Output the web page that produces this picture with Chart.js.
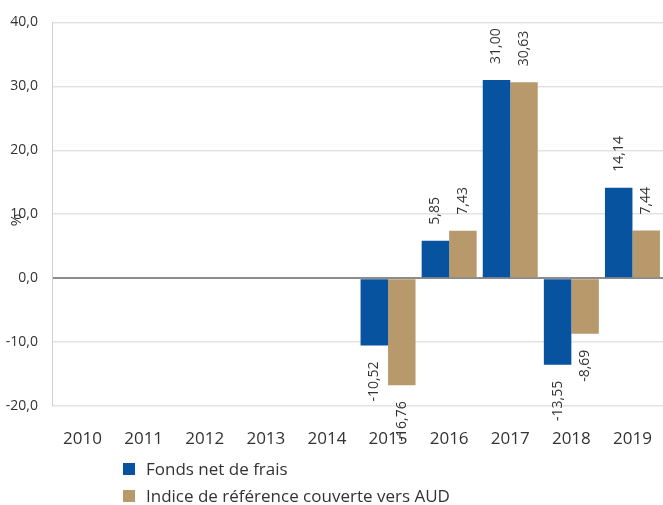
<!DOCTYPE html>
<html>
<head>
<meta charset="utf-8">
<script src="https://cdn.jsdelivr.net/npm/chart.js@4.4.0/dist/chart.umd.min.js"></script>
<style>
	body { margin: 0; background: #fff; }
	#wrap { position: relative; width: 663px; height: 505px; }
	#legend { position: absolute; left: 123px; top: 456px; font-family: "Open Sans", sans-serif; font-size: 17px; color: #333; }
	#legend div { height: 27px; line-height: 26px; white-space: nowrap; }
	#legend span.box { display: inline-block; width: 12px; height: 12px; margin-right: 11px; vertical-align: 0px; }
</style>
</head>
<body>
<div id="wrap">
	<canvas id="chart" width="663" height="505"></canvas>
	<div id="legend"></div>
</div>
<script>
const labels = ['2010', '2011', '2012', '2013', '2014', '2015', '2016', '2017', '2018', '2019'];
const fonds = [null, null, null, null, null, -10.52, 5.85, 31.00, -13.55, 14.14];
const indice = [null, null, null, null, null, -16.76, 7.43, 30.63, -8.69, 7.44];
const seriesNames = ['Fonds net de frais', 'Indice de référence couverte vers AUD'];
const seriesColors = ['#07539f', '#b8996b'];

const fmt = (v, d) => v.toFixed(d).replace('.', ',');

// rotated value labels above / below bars
const valueLabels = {
	id: 'valueLabels',
	afterDatasetsDraw(chart) {
		const ctx = chart.ctx;
		ctx.save();
		ctx.font = '14px "Open Sans", sans-serif';
		ctx.fillStyle = '#333';
		ctx.textBaseline = 'middle';
		chart.data.datasets.forEach((ds, i) => {
			chart.getDatasetMeta(i).data.forEach((bar, j) => {
				const v = ds.data[j];
				if (v == null) return;
				ctx.save();
				if (v >= 0) {
					ctx.translate(bar.x, bar.y - 16);
					ctx.rotate(-Math.PI / 2);
					ctx.textAlign = 'left';
				} else {
					ctx.translate(bar.x, bar.y + 16);
					ctx.rotate(-Math.PI / 2);
					ctx.textAlign = 'right';
				}
				ctx.fillText(fmt(v, 2), 0, 0);
				ctx.restore();
			});
		});
		// y axis unit
		ctx.save();
		ctx.translate(17, 220);
		ctx.rotate(-Math.PI / 2);
		ctx.textAlign = 'center';
		ctx.font = '15px "Open Sans", sans-serif';
		ctx.fillText('%', 0, 0);
		ctx.restore();
		ctx.restore();
	}
};

const config = {
	type: 'bar',
	data: {
		labels: labels,
		datasets: [
			{ label: seriesNames[0], data: fonds, backgroundColor: seriesColors[0] },
			{ label: seriesNames[1], data: indice, backgroundColor: seriesColors[1] }
		]
	},
	plugins: [valueLabels],
	options: {
		responsive: false,
		animation: false,
		categoryPercentage: 0.9,
		barPercentage: 1,
		layout: { padding: { top: 22, right: 0, bottom: 59, left: 0 } },
		plugins: {
			legend: { display: false },
			tooltip: { enabled: false }
		},
		scales: {
			x: {
				grid: { display: false, drawTicks: true, tickLength: 21 },
				border: { display: false },
				ticks: { color: '#333', font: { family: 'Open Sans', size: 17 }, padding: 2 },
				afterFit(scale) { scale.height = 40; }
			},
			y: {
				min: -20,
				max: 40,
				ticks: {
					stepSize: 10,
					color: '#333',
					font: { family: 'Open Sans', size: 14 },
					padding: 14,
					callback: v => fmt(v, 1)
				},
				grid: {
					drawTicks: false,
					color: ctx => ctx.tick && ctx.tick.value === 0 ? '#8c8c8c' : '#e3e3e3',
					lineWidth: ctx => ctx.tick && ctx.tick.value === 0 ? 2 : 1.5
				},
				border: { color: '#cfcfcf' },
				afterFit(scale) { scale.width = 52; }
			}
		}
	}
};

const chart = new Chart(document.getElementById('chart'), config);

const legend = document.getElementById('legend');
seriesNames.forEach((name, i) => {
	const row = document.createElement('div');
	const box = document.createElement('span');
	box.className = 'box';
	box.style.background = seriesColors[i];
	row.appendChild(box);
	row.appendChild(document.createTextNode(name));
	legend.appendChild(row);
});
</script>
</body>
</html>
